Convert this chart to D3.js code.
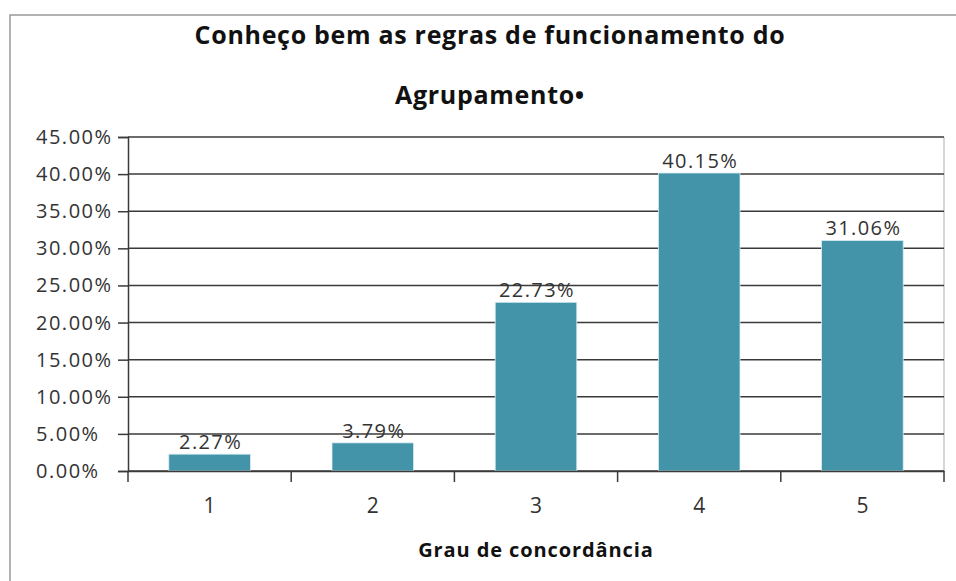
<!DOCTYPE html>
<html>
<head>
<meta charset="utf-8">
<script src="https://cdn.jsdelivr.net/npm/d3@7"></script>
<style>
  body { margin: 0; background: #fff; }
  svg { display: block; font-family: "Open Sans", sans-serif; }
</style>
</head>
<body>
<svg width="956" height="581"></svg>
<script>
const titleLines = ['Conheço bem as regras de funcionamento do', 'Agrupamento•'];
const xTitle = 'Grau de concordância';
const categories = ['1', '2', '3', '4', '5'];
const values = [2.27, 3.79, 22.73, 40.15, 31.06];
const yTicks = [0, 5, 10, 15, 20, 25, 30, 35, 40, 45];

const plot = { left: 128, right: 944, top: 137, bottom: 471 };

const svg = d3.select('svg');

// outer frame (only top and left visible in the crop)
svg.append('rect')
    .attr('x', 10).attr('y', 15)
    .attr('width', 960).attr('height', 600)
    .attr('fill', 'none')
    .attr('stroke', '#999')
    .attr('stroke-width', 1.5);

const x = d3.scaleBand()
    .domain(categories)
    .range([plot.left, plot.right]);

const xBar = d3.scaleBand()
    .domain(categories)
    .range([plot.left, plot.right])
    .paddingInner(0.5)
    .paddingOuter(0.25);

const y = d3.scaleLinear()
    .domain([0, 45])
    .range([plot.bottom, plot.top]);

// plot area right edge
svg.append('line')
    .attr('x1', plot.right).attr('x2', plot.right)
    .attr('y1', plot.top).attr('y2', plot.bottom)
    .attr('stroke', '#c8c8c8')
    .attr('stroke-width', 1.5);

// gridlines
svg.append('g')
    .selectAll('line')
    .data(yTicks)
    .join('line')
    .attr('x1', plot.left).attr('x2', plot.right)
    .attr('y1', d => y(d)).attr('y2', d => y(d))
    .attr('stroke', '#3a3a3a')
    .attr('stroke-width', 1.5);

// bars
svg.append('g')
    .selectAll('rect')
    .data(values)
    .join('rect')
    .attr('x', (d, i) => xBar(categories[i]))
    .attr('y', d => y(d))
    .attr('width', xBar.bandwidth())
    .attr('height', d => y(0) - y(d))
    .attr('fill', '#4393a9')
    .attr('stroke', '#d7eef3')
    .attr('stroke-width', 0.8);

// value labels
svg.append('g')
    .selectAll('text')
    .data(values)
    .join('text')
    .attr('x', (d, i) => xBar(categories[i]) + xBar.bandwidth() / 2 + 1)
    .attr('y', d => y(d) - 5)
    .attr('text-anchor', 'middle')
    .attr('font-size', 20)
    .attr('letter-spacing', 1.4)
    .attr('fill', '#333')
    .text(d => d.toFixed(2) + '%');

// y axis
const yAxis = svg.append('g')
    .attr('transform', `translate(${plot.left},0)`)
    .call(d3.axisLeft(y).tickValues(yTicks).tickSize(10).tickFormat(''));
yAxis.select('.domain').attr('stroke', '#3a3a3a').attr('stroke-width', 1.5);
yAxis.selectAll('.tick line').attr('stroke', '#3a3a3a').attr('stroke-width', 1.5);

// y labels are left aligned in the original
svg.append('g')
    .selectAll('text')
    .data(yTicks)
    .join('text')
    .attr('x', 36)
    .attr('y', d => y(d) + 7)
    .attr('font-size', 20)
    .attr('letter-spacing', 1.5)
    .attr('fill', '#333')
    .text(d => d.toFixed(2) + '%');

// x axis: ticks between categories
const xAxis = svg.append('g')
    .attr('transform', `translate(0,${plot.bottom})`)
    .call(d3.axisBottom(x).tickSize(0).tickPadding(27));
xAxis.select('.domain').attr('stroke', '#3a3a3a').attr('stroke-width', 1.5);
xAxis.selectAll('.tick text')
    .attr('font-size', 21)
    .attr('fill', '#333')
    .attr('font-family', '"Open Sans", sans-serif');

const bounds = [plot.left].concat(categories.map(c => x(c) + x.bandwidth()));
xAxis.append('g')
    .selectAll('line')
    .data(bounds)
    .join('line')
    .attr('x1', d => d).attr('x2', d => d)
    .attr('y1', 0).attr('y2', 11)
    .attr('stroke', '#3a3a3a')
    .attr('stroke-width', 1.5);

// titles
svg.append('g')
    .selectAll('text')
    .data(titleLines)
    .join('text')
    .attr('x', 490)
    .attr('y', (d, i) => 44 + i * 60)
    .attr('text-anchor', 'middle')
    .attr('font-size', 25)
    .attr('font-weight', 700)
    .attr('letter-spacing', 0.7)
    .attr('fill', '#111')
    .text(d => d);

svg.append('text')
    .attr('x', (plot.left + plot.right) / 2)
    .attr('y', 557)
    .attr('text-anchor', 'middle')
    .attr('font-size', 20)
    .attr('font-weight', 700)
    .attr('letter-spacing', 0.9)
    .attr('fill', '#111')
    .text(xTitle);
</script>
</body>
</html>
